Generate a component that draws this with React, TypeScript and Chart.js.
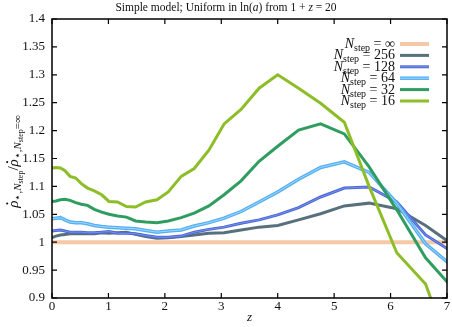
import React, { useEffect, useRef } from "react";
import { Chart, registerables } from "chart.js";
Chart.register(...registerables);

const SERIF = "'Liberation Serif', 'Times New Roman', serif";

// z grid (sampling of the curves)
const zGrid = [0, 0.07, 0.15, 0.23, 0.32, 0.42, 0.52, 0.63, 0.75, 0.88, 1.01, 1.16, 1.32, 1.48, 1.66, 1.86, 2.06, 2.29, 2.52, 2.78, 3.05, 3.35, 3.67, 4.0, 4.37, 4.76, 5.18, 5.62, 6.11, 6.62, 7.18];

const n16 = [1.133, 1.134, 1.133, 1.128, 1.118, 1.115, 1.105, 1.097, 1.092, 1.085, 1.073, 1.072, 1.064, 1.063, 1.072, 1.076, 1.090, 1.118, 1.132, 1.165, 1.212, 1.238, 1.276, 1.300, 1.276, 1.249, 1.215, 1.100, 0.981, 0.925, 0.770];
const n32 = [1.073, 1.074, 1.076, 1.077, 1.075, 1.071, 1.068, 1.066, 1.059, 1.054, 1.050, 1.047, 1.045, 1.038, 1.036, 1.035, 1.038, 1.044, 1.052, 1.065, 1.085, 1.110, 1.145, 1.172, 1.201, 1.212, 1.194, 1.135, 1.058, 0.972, 0.909];
const n64 = [1.042, 1.043, 1.044, 1.040, 1.036, 1.035, 1.035, 1.033, 1.030, 1.028, 1.027, 1.026, 1.025, 1.024, 1.021, 1.018, 1.020, 1.022, 1.029, 1.035, 1.043, 1.055, 1.072, 1.090, 1.113, 1.134, 1.144, 1.125, 1.070, 0.997, 0.950];
const n128 = [1.020, 1.021, 1.022, 1.020, 1.018, 1.018, 1.018, 1.017, 1.017, 1.018, 1.019, 1.016, 1.016, 1.015, 1.012, 1.009, 1.009, 1.011, 1.018, 1.023, 1.027, 1.034, 1.040, 1.049, 1.062, 1.081, 1.097, 1.099, 1.072, 1.013, 0.977];
const n256 = [1.008, 1.011, 1.013, 1.014, 1.015, 1.015, 1.015, 1.015, 1.015, 1.017, 1.016, 1.017, 1.018, 1.014, 1.010, 1.007, 1.008, 1.010, 1.013, 1.016, 1.017, 1.022, 1.027, 1.030, 1.040, 1.051, 1.065, 1.070, 1.060, 1.030, 0.990];
const infZ = [0, 7.18];
const nInf = [1, 1];

const legendLabels = ["\u221E", "256", "128", "64", "32", "16"];
const xTickValues = [0, 1, 2, 3, 4, 5, 6, 7];
const yTickValues = [0.9, 0.95, 1, 1.05, 1.1, 1.15, 1.2, 1.25, 1.3, 1.35, 1.4];

const COLORS = {
  inf: "#f6c8a6",
  n256: "#58707b",
  n128: "#4d68d4",
  n128in: "#7590ea",
  n64: "#55aff0",
  n64in: "#9dd8ff",
  n32: "#2f9d5f",
  n16: "#8dbd28",
};

type Seg = { t: string; size: number; italic?: boolean; dy?: number; dot?: boolean };

function fontOf(s: Seg) {
  return `${s.italic ? "italic " : ""}${s.size}px ${SERIF}`;
}

function drawRich(ctx: CanvasRenderingContext2D, segs: Seg[], x: number, y: number, align: "left" | "center" | "right") {
  let w = 0;
  for (const s of segs) {
    ctx.font = fontOf(s);
    w += ctx.measureText(s.t).width;
  }
  let cx = align === "left" ? x : align === "center" ? x - w / 2 : x - w;
  ctx.textAlign = "left";
  ctx.textBaseline = "alphabetic";
  for (const s of segs) {
    ctx.font = fontOf(s);
    const sw = ctx.measureText(s.t).width;
    ctx.fillText(s.t, cx, y + (s.dy || 0));
    if (s.dot) {
      ctx.beginPath();
      ctx.arc(cx + sw * 0.6, y + (s.dy || 0) - s.size * 0.72, s.size * 0.07, 0, Math.PI * 2);
      ctx.fill();
    }
    cx += sw;
  }
}

const decorPlugin = {
  id: "decor",
  afterDraw(chart: any) {
    const ctx: CanvasRenderingContext2D = chart.ctx;
    const { left, right, top, bottom } = chart.chartArea;
    const xs = chart.scales.x;
    const ys = chart.scales.y;
    ctx.save();
    ctx.fillStyle = "#111";
    ctx.strokeStyle = "#000";
    // frame
    ctx.lineWidth = 1.5;
    ctx.strokeRect(left, top, right - left, bottom - top);
    // inward ticks
    ctx.lineWidth = 1.2;
    const tl = 5;
    ctx.beginPath();
    for (const v of xTickValues) {
      const px = xs.getPixelForValue(v);
      ctx.moveTo(px, bottom);
      ctx.lineTo(px, bottom - tl);
      ctx.moveTo(px, top);
      ctx.lineTo(px, top + tl);
    }
    for (const v of yTickValues) {
      const py = ys.getPixelForValue(v);
      ctx.moveTo(left, py);
      ctx.lineTo(left + tl, py);
      ctx.moveTo(right, py);
      ctx.lineTo(right - tl, py);
    }
    ctx.stroke();

    // title
    drawRich(ctx, [
      { t: "Simple model; Uniform in ln(", size: 11.5 },
      { t: "a", size: 11.5, italic: true },
      { t: ") from 1 + ", size: 11.5 },
      { t: "z", size: 11.5, italic: true },
      { t: " = 20", size: 11.5 },
    ], chart.width / 2, 11, "center");

    // x title
    drawRich(ctx, [{ t: "z", size: 13, italic: true }], (left + right) / 2, 321, "center");

    // y title (rotated)
    ctx.save();
    ctx.translate(18, (top + bottom) / 2 + 3);
    ctx.rotate(-Math.PI / 2);
    drawRich(ctx, [
      { t: "\u03C1", size: 15, italic: true, dot: true },
      { t: "\u22C6,", size: 11, dy: 3 },
      { t: "N", size: 11, italic: true, dy: 3 },
      { t: "step", size: 8, dy: 5 },
      { t: "/", size: 15 },
      { t: "\u03C1", size: 15, italic: true, dot: true },
      { t: "\u22C6,", size: 11, dy: 3 },
      { t: "N", size: 11, italic: true, dy: 3 },
      { t: "step", size: 8, dy: 5 },
      { t: "=\u221E", size: 11, dy: 3 },
    ], 0, 0, "center");
    ctx.restore();

    // legend
    const legendColors = [COLORS.inf, COLORS.n256, COLORS.n128, COLORS.n64, COLORS.n32, COLORS.n16];
    const legendInner = [null, null, COLORS.n128in, COLORS.n64in, null, null];
    const legendWidths = [4, 3, 3, 3.5, 3, 3];
    legendLabels.forEach((lab, i) => {
      const yc = 44 + i * 11.4;
      drawRich(ctx, [
        { t: "N", size: 14, italic: true },
        { t: "step", size: 10, dy: 3 },
        { t: " = " + lab, size: 14 },
      ], 395, yc + 4, "right");
      ctx.strokeStyle = legendColors[i];
      ctx.lineWidth = legendWidths[i];
      ctx.beginPath();
      ctx.moveTo(400, yc);
      ctx.lineTo(429, yc);
      ctx.stroke();
      const inner = legendInner[i];
      if (inner) {
        ctx.strokeStyle = inner;
        ctx.lineWidth = 1;
        ctx.beginPath();
        ctx.moveTo(400, yc);
        ctx.lineTo(429, yc);
        ctx.stroke();
      }
    });
    ctx.restore();
  },
};

function toPts(xs: number[], ys: number[]) {
  return xs.map((x, i) => ({ x, y: ys[i] }));
}

export default function App() {
  const ref = useRef<HTMLCanvasElement | null>(null);
  useEffect(() => {
    if (!ref.current) return;
    Chart.defaults.font.family = SERIF;
    const mk = (data: number[], color: string, w = 3, xs = zGrid) => ({
      data: toPts(xs, data),
      borderColor: color,
      backgroundColor: color,
      borderWidth: w,
      pointRadius: 0,
      tension: 0,
      fill: false,
    });
    const chart = new Chart(ref.current, {
      type: "line",
      data: {
        datasets: [
          mk(n16, COLORS.n16),
          mk(n32, COLORS.n32),
          mk(n64, COLORS.n64in, 1),
          mk(n64, COLORS.n64, 3.5),
          mk(n128, COLORS.n128in, 1),
          mk(n128, COLORS.n128),
          mk(n256, COLORS.n256),
          mk(nInf, COLORS.inf, 4, infZ),
        ] as any,
      },
      options: {
        animation: false,
        responsive: true,
        maintainAspectRatio: false,
        layout: { padding: { top: 19, right: 5, left: 0, bottom: 0 } },
        plugins: { legend: { display: false }, tooltip: { enabled: false }, title: { display: false } },
        scales: {
          x: {
            type: "linear",
            min: 0,
            max: 7,
            grid: { display: false, drawTicks: false },
            border: { display: false },
            afterBuildTicks: (s: any) => { s.ticks = xTickValues.map((v) => ({ value: v })); },
            afterFit: (s: any) => { s.height = 29; },
            ticks: { color: "#111", font: { size: 13, family: SERIF }, padding: 1, maxRotation: 0 },
          },
          y: {
            type: "linear",
            min: 0.9,
            max: 1.4,
            grid: { display: false, drawTicks: false },
            border: { display: false },
            afterBuildTicks: (s: any) => { s.ticks = yTickValues.map((v) => ({ value: v })); },
            afterFit: (s: any) => { s.width = 52; },
            ticks: {
              color: "#111",
              font: { size: 13, family: SERIF },
              padding: 7,
              callback: (v: any) => String(parseFloat(Number(v).toFixed(2))),
            },
          },
        },
      },
      plugins: [decorPlugin],
    });
    return () => chart.destroy();
  }, []);
  return (
    <div style={{ position: "fixed", left: 0, top: 0, width: 452, height: 327, background: "#fff" }}>
      <canvas ref={ref} />
    </div>
  );
}
